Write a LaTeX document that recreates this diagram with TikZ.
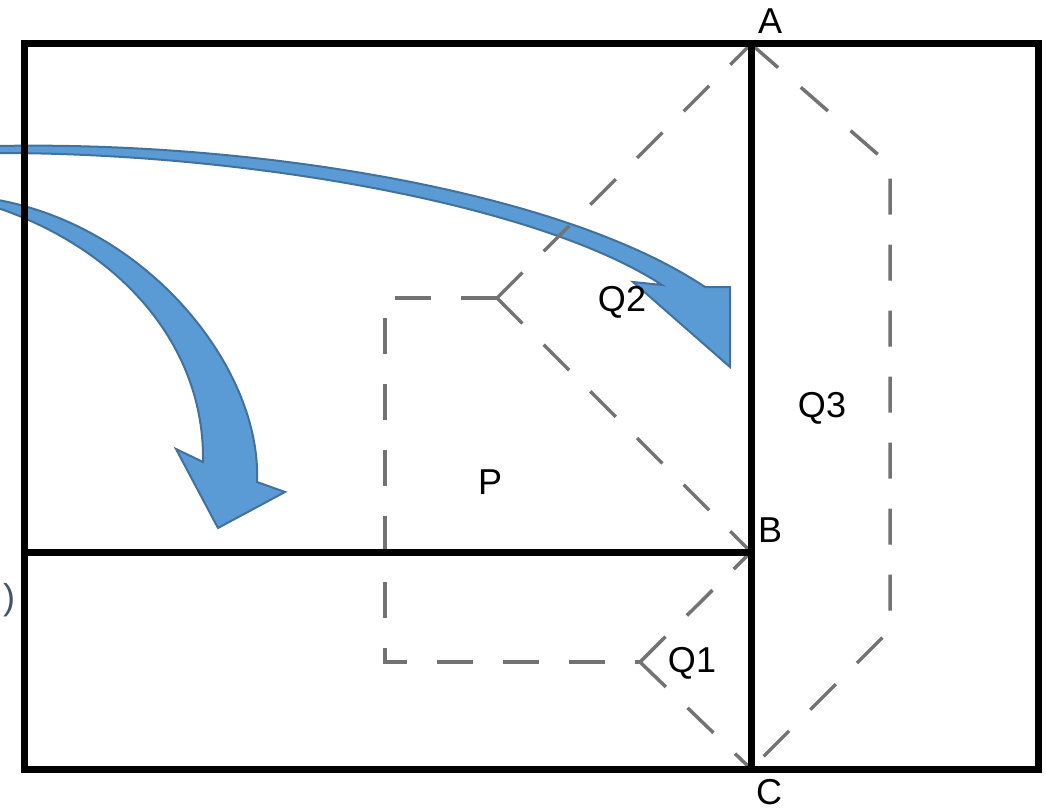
\documentclass[tikz,border=0pt]{standalone}
\usepackage{fontspec}
\setmainfont{Liberation Sans}
\usetikzlibrary{positioning}
\definecolor{arrblue}{RGB}{91,155,213}
\definecolor{arredge}{RGB}{65,113,156}
\definecolor{slate}{RGB}{68,84,106}
\tikzset{
  wall/.style={line width=7pt},
  region/.style={black!55, line width=3.5pt, dash pattern=on 36pt off 30pt},
  bendarrow/.style={fill=arrblue, draw=arredge, line width=2pt, line join=miter},
  lbl/.style={font=\fontsize{36}{40}\selectfont, inner sep=0pt}
}
\begin{document}
\begin{tikzpicture}[x=1pt, y=-1pt]
  \useasboundingbox (0,0) rectangle (1046,810);
  % corner points
  \coordinate (A) at (751,44);
  \coordinate (B) at (751,552);
  \coordinate (C) at (751,769);
  \coordinate (nw) at (24,44);
  \coordinate (se) at (1038,769);
  \coordinate (w) at (24,552);
  \coordinate (pnw) at (385,298);
  \coordinate (pk) at (497,298);
  \coordinate (psw) at (385,662);
  \coordinate (pq) at (640,662);
  \coordinate (qa) at (890,165);
  \coordinate (qc) at (890,630);
  % curved block arrows
  \draw[bendarrow] (-2,146) .. controls (250,141) and (560,190) .. (705,287)
    -- (730,287) -- (730,367) -- (633,282) -- (662,285)
    .. controls (540,205) and (250,153) .. (-2,153) -- cycle;
  \draw[bendarrow] (-2,200) .. controls (150,228) and (262,370) .. (257,482)
    -- (285,492) -- (218,528) -- (176,449) -- (203,462)
    .. controls (205,345) and (120,250) .. (-2,208) -- cycle;
  % dashed regions
  \draw[region] (pk) -- (pnw) -- (psw) -- (pq);
  \draw[region] (pk) -- (A);
  \draw[region] (pk) -- (B);
  \draw[region] (pq) -- (B);
  \draw[region] (pq) -- (C);
  \draw[region] (A) -- (qa) -- (qc) -- (C);
  % walls
  \draw[wall] (nw) rectangle (se);
  \draw[wall] (A) -- (C);
  \draw[wall] (w) -- (B);
  % labels
  \node[lbl] (labA) at (770,21) {A};
  \node[lbl] (labB) at (770,530) {B};
  \node[lbl] (labC) at (769,792) {C};
  \node[lbl] (labP) at (490,482) {P};
  \node[lbl] (labQ1) at (692,663) {Q1};
  \node[lbl] (labQ2) at (622,302) {Q2};
  \node[lbl] (labQ3) at (822,408) {Q3};
  \node[lbl, text=slate] (paren) at (9,600) {)};
\end{tikzpicture}
\end{document}
